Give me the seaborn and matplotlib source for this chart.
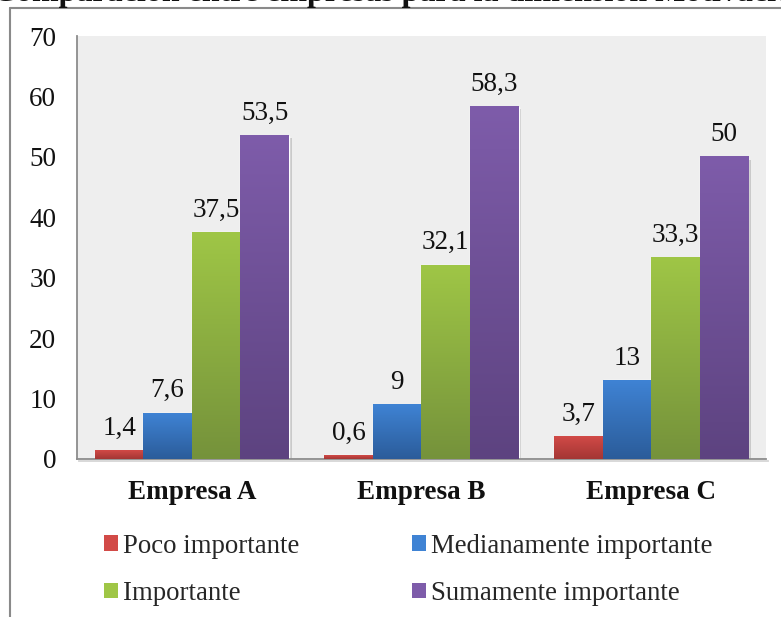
import numpy as np
import pandas as pd
import matplotlib
matplotlib.use("Agg")
import matplotlib.pyplot as plt
import matplotlib.patheffects as pe
from matplotlib.lines import Line2D
from matplotlib.patches import Patch
from matplotlib.colors import LinearSegmentedColormap
import seaborn as sns

# --- data -----------------------------------------------------------------
empresas = ["Empresa A", "Empresa B", "Empresa C"]
niveles = ["Poco importante", "Medianamente importante", "Importante", "Sumamente importante"]
poco = [1.4, 0.6, 3.7]
mediana = [7.6, 9.0, 13.0]
importante = [37.5, 32.1, 33.3]
sumamente = [53.5, 58.3, 50.0]
y_ticks = [0, 10, 20, 30, 40, 50, 60, 70]
titulo = "Comparación entre empresas para la dimensión Motivación"

df = pd.DataFrame({
    "empresa": empresas * 4,
    "nivel": [n for n in niveles for _ in empresas],
    "valor": poco + mediana + importante + sumamente,
})

# gradient colours (top, bottom) per level
grad = {
    "Poco importante": ("#d24a47", "#a33634"),
    "Medianamente importante": ("#3f83d4", "#2b5c9a"),
    "Importante": ("#9fc646", "#75923b"),
    "Sumamente importante": ("#7e5caa", "#5d4380"),
}
solid = {k: v[0] for k, v in grad.items()}

sns.set_theme(style="white")
plt.rcParams["font.family"] = ["Liberation Serif", "DejaVu Serif"]

fig = plt.figure(figsize=(7.81, 6.17), dpi=100)
ax = fig.add_axes([77 / 781, 1 - 459 / 617, (766 - 77) / 781, (459 - 36) / 617])
ax.set_facecolor("#eeeeee")

sns.barplot(data=df, x="empresa", y="valor", hue="nivel", order=empresas,
            hue_order=niveles, palette=solid, width=0.845, gap=0,
            saturation=1, ax=ax, legend=False, zorder=2)

ax.set_ylim(0, 70)
ax.set_yticks(y_ticks)
ax.set_yticklabels([str(t) for t in y_ticks])
xlim = ax.get_xlim()

# paint each bar with a vertical gradient, a soft drop shadow and its value label
shadow = [pe.SimplePatchShadow(offset=(2, -2), shadow_rgbFace="#777777", alpha=0.3), pe.Normal()]
for container, nivel in zip(ax.containers, niveles):
    top, bottom = grad[nivel]
    cmap = LinearSegmentedColormap.from_list(nivel, [bottom, top])
    g = np.linspace(0, 1, 256).reshape(-1, 1)
    for bar, val in zip(container.patches, container.datavalues):
        bar.set_path_effects(shadow)
        x0, w, h = bar.get_x(), bar.get_width(), bar.get_height()
        ax.imshow(g, cmap=cmap, origin="lower", aspect="auto",
                  extent=(x0, x0 + w, 0, h), zorder=3, interpolation="bilinear")
        txt = f"{val:g}".replace(".", ",")
        ax.annotate(txt, (x0 + w / 2, h), xytext=(0, 7), textcoords="offset points",
                    ha="center", va="bottom", fontsize=19.5, color="#111111")
ax.set_xlim(xlim)
ax.set_ylim(0, 70)

for s in ["top", "right"]:
    ax.spines[s].set_visible(False)
for s in ["left", "bottom"]:
    ax.spines[s].set_color("#8c8c8c")
    ax.spines[s].set_linewidth(1.3)
ax.spines["bottom"].set_path_effects(
    [pe.SimpleLineShadow(offset=(1.5, -1.5), shadow_color="#888888", alpha=0.35), pe.Normal()])
ax.tick_params(axis="y", length=0, pad=15, labelsize=19.5, labelcolor="#111111")
ax.tick_params(axis="x", length=0, pad=15, labelsize=19.5, labelcolor="#111111")
for lab in ax.get_xticklabels():
    lab.set_fontweight("bold")
ax.set_xlabel("")
ax.set_ylabel("")

# legend, filled row by row: (Poco, Mediana) / (Importante, Sumamente)
order = [0, 2, 1, 3]
handles = [Patch(facecolor=solid[niveles[i]], edgecolor="none") for i in order]
labels = [niveles[i] for i in order]
fig.legend(handles, labels, loc="upper left", bbox_to_anchor=(93 / 781, 1 - 523 / 617),
           ncol=2, frameon=False, fontsize=19.3, handlelength=0.52, handleheight=0.52,
           handletextpad=0.19, columnspacing=4.2, labelspacing=0.83, borderaxespad=0)

# chart frame and clipped title above it
fig.add_artist(Line2D([10 / 781, 10 / 781], [0, 1 - 8 / 617], color="#8a8a8a", lw=1.5))
fig.add_artist(Line2D([10 / 781, 1], [1 - 8 / 617, 1 - 8 / 617], color="#8a8a8a", lw=1.5))
fig.text(-7 / 781, 1 - 0.5 / 617, titulo, ha="left", va="baseline", fontsize=23,
         fontweight="bold", color="#111111")

fig.savefig("out.png", dpi=100)
